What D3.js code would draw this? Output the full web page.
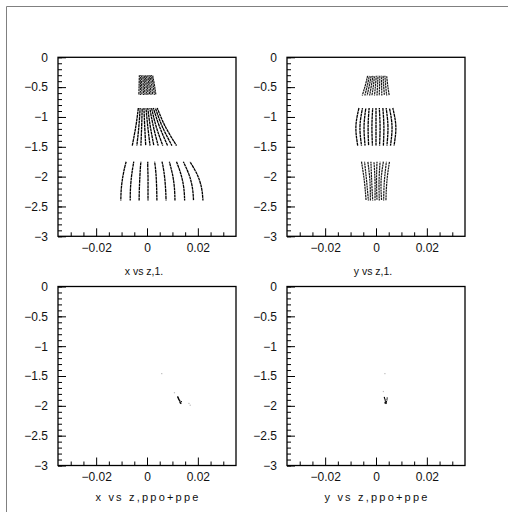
<!DOCTYPE html>
<html>
<head>
<meta charset="utf-8">
<script src="https://cdn.jsdelivr.net/npm/d3@7"></script>
<style>
  body { margin: 0; background: #fff; }
  svg text { font-family: "Liberation Sans", Arial, sans-serif; fill: #111; }
</style>
</head>
<body>
<div id="chart"></div>
<script>
// tick values
const xMajor = [-0.02, 0, 0.02];
const zMajor = [0, -0.5, -1, -1.5, -2, -2.5, -3];

// panel titles
const topTitles = ["x vs z,1.", "y vs z,1."];
const bottomTitles = ["x vs z,ppo+ppe", "y vs z,ppo+ppe"];

// ---- x vs z,1. : tracks, x values at the z levels listed ----
const xzTopZ = [-0.30, -0.46, -0.63];
const xzTopTracks = [
  [-0.0030, -0.0031, -0.0032], [-0.0025, -0.0026, -0.0026], [-0.0021, -0.0021, -0.0020],
  [-0.0016, -0.0015, -0.0014], [-0.0011, -0.0010, -0.0008], [-0.0007, -0.0004, -0.0002],
  [-0.0002, 0.0001, 0.0004], [0.0003, 0.0007, 0.0010], [0.0008, 0.0012, 0.0016],
  [0.0012, 0.0018, 0.0022], [0.0017, 0.0024, 0.0029], [0.0022, 0.0029, 0.0035]
];
const xzMidZ = [-0.85, -1.16, -1.48];
const xzMidTracks = [
  [-0.0034, -0.0044, -0.0058], [-0.0027, -0.0032, -0.0040], [-0.0019, -0.0021, -0.0024],
  [-0.0012, -0.0009, -0.0005], [-0.0004, 0.0003, 0.0012], [0.0003, 0.0013, 0.0027],
  [0.0011, 0.0025, 0.0044], [0.0018, 0.0036, 0.0062], [0.0025, 0.0049, 0.0081],
  [0.0033, 0.0060, 0.0098], [0.0040, 0.0072, 0.0116]
];
const xzLowZ = [-1.75, -1.85, -2.0, -2.2, -2.4];
const xzLowTracks = [
  [-0.0082, -0.0088, -0.0095, -0.0101, -0.0103],
  [-0.0052, -0.0056, -0.0061, -0.0065, -0.0066],
  [-0.0024, -0.0026, -0.0028, -0.0030, -0.0031],
  [0.0003, 0.0003, 0.0004, 0.0004, 0.0004],
  [0.0030, 0.0033, 0.0036, 0.0038, 0.0039],
  [0.0059, 0.0064, 0.0069, 0.0073, 0.0075],
  [0.0088, 0.0094, 0.0102, 0.0108, 0.0110],
  [0.0116, 0.0125, 0.0136, 0.0145, 0.0148],
  [0.0143, 0.0154, 0.0168, 0.0179, 0.0183],
  [0.0169, 0.0183, 0.0201, 0.0215, 0.0220]
];

// ---- y vs z,1. ----
const yzTopZ = [-0.31, -0.47, -0.64];
const yzTopTracks = [
  [-0.0033, -0.0042, -0.0054], [-0.0026, -0.0034, -0.0044], [-0.0019, -0.0026, -0.0035],
  [-0.0012, -0.0018, -0.0025], [-0.0006, -0.0010, -0.0016], [0.0001, -0.0002, -0.0006],
  [0.0008, 0.0006, 0.0004], [0.0015, 0.0014, 0.0013], [0.0022, 0.0022, 0.0023],
  [0.0028, 0.0030, 0.0033], [0.0035, 0.0038, 0.0042], [0.0042, 0.0046, 0.0052]
];
const yzMidZ = [-0.85, -1.16, -1.48];
const yzMidTracks = [
  [-0.0067, -0.0079, -0.0072], [-0.0053, -0.0063, -0.0057], [-0.0040, -0.0047, -0.0043],
  [-0.0027, -0.0031, -0.0029], [-0.0013, -0.0016, -0.0014], [0.0000, 0.0000, 0.0000],
  [0.0013, 0.0016, 0.0014], [0.0027, 0.0031, 0.0029], [0.0040, 0.0047, 0.0043],
  [0.0053, 0.0063, 0.0057], [0.0066, 0.0078, 0.0071]
];
const yzLowZ = [-1.75, -2.07, -2.4];
const yzLowTracks = [
  [-0.0057, -0.0046, -0.0039], [-0.0045, -0.0037, -0.0030], [-0.0032, -0.0024, -0.0022],
  [-0.0020, -0.0017, -0.0013], [-0.0008, -0.0004, -0.0004], [0.0004, 0.0002, 0.0004],
  [0.0016, 0.0012, 0.0013], [0.0029, 0.0020, 0.0022], [0.0041, 0.0033, 0.0030],
  [0.0053, 0.0043, 0.0039]
];

// ---- ppo+ppe hits ----
const xzHitX = [0.0121, 0.0122, 0.0123, 0.0124, 0.0125, 0.0126, 0.0128, 0.0129, 0.0130, 0.0131, 0.0133, 0.0135];
const xzHitZ = [-1.85, -1.86, -1.87, -1.88, -1.89, -1.90, -1.91, -1.92, -1.94, -1.95, -1.96, -1.93];
const xzFaintX = [0.0058, 0.0108, 0.0165, 0.0170];
const xzFaintZ = [-1.46, -1.78, -1.96, -1.99];
const yzHitX = [0.0033, 0.0034, 0.0036, 0.0037, 0.0038, 0.0040, 0.0041, 0.0043, 0.0044, 0.0039, 0.0035];
const yzHitZ = [-1.86, -1.88, -1.90, -1.92, -1.94, -1.95, -1.93, -1.90, -1.87, -1.96, -1.95];
const yzFaintX = [0.0035, 0.0029];
const yzFaintZ = [-1.46, -1.76];

const width = 508, height = 512;
const pw = 178, ph = 179;
const lefts = [58, 287], tops = [57.3, 286.5];

const svg = d3.select("#chart").append("svg")
  .attr("width", width).attr("height", height);

svg.append("rect").attr("width", width).attr("height", height).attr("fill", "#fff");
// outer page frame (only left and top edges inside the window)
svg.append("path").attr("d", "M6.5,512V6.5H508")
  .attr("fill", "none").attr("stroke", "#808080").attr("stroke-width", 1);

const x = d3.scaleLinear().domain([-0.035, 0.035]).range([0, pw]);
const y = d3.scaleLinear().domain([-3, 0]).range([ph, 0]);
const fmt = d3.format("~g");

const line = d3.line()
  .x(d => x(d[0])).y(d => y(d[1]))
  .curve(d3.curveNatural);

function drawTracks(g, zs, tracks, opts) {
  g.append("g").selectAll("path")
    .data(tracks.map(t => t.map((v, i) => [v, zs[i]])))
    .join("path")
    .attr("d", line)
    .attr("fill", "none")
    .attr("stroke", "#000")
    .attr("stroke-width", opts.w)
    .attr("stroke-dasharray", opts.dash)
    // stagger the dot pattern so gaps don't line up across tracks
    .attr("stroke-dashoffset", (d, i) => (i * 1.3) % 3)
    .attr("opacity", opts.op);
}

function drawHits(g, xs, zs, col) {
  g.append("g").selectAll("rect")
    .data(xs.map((v, i) => [v, zs[i]]))
    .join("rect")
    .attr("x", d => x(d[0]) - 0.6)
    .attr("y", d => y(d[1]) - 0.6)
    .attr("width", 1.2).attr("height", 1.2)
    .attr("fill", col);
}

function drawAxes(g) {
  const xMinor = d3.range(-0.03, 0.0301, 0.005).filter(v => Math.abs(Math.round(v * 1000) % 20) !== 0);
  const zMinor = d3.range(0, -3.01, -0.1);

  g.append("g").attr("transform", `translate(0,${ph})`)
    .call(d3.axisBottom(x).tickValues(xMinor).tickSize(-4).tickFormat(""))
    .call(a => a.select(".domain").remove());
  g.append("g").attr("transform", `translate(0,${ph})`)
    .call(d3.axisBottom(x).tickValues(xMajor).tickSize(-8).tickPadding(7).tickFormat(fmt))
    .call(a => a.select(".domain").remove())
    .call(a => a.selectAll("text").attr("font-size", 12).attr("fill", "#111"));

  g.append("g")
    .call(d3.axisLeft(y).tickValues(zMinor).tickSize(-4).tickFormat(""))
    .call(a => a.select(".domain").remove());
  g.append("g")
    .call(d3.axisLeft(y).tickValues(zMajor).tickSize(-8).tickPadding(10).tickFormat(fmt))
    .call(a => a.select(".domain").remove())
    .call(a => a.selectAll("text").attr("font-size", 12).attr("fill", "#111"));

  g.selectAll(".tick line").attr("stroke", "#000").attr("stroke-width", 1);

  g.append("rect").attr("width", pw).attr("height", ph)
    .attr("fill", "none").attr("stroke", "#000").attr("stroke-width", 1.3);
}

const panels = [
  { col: 0, row: 0 }, { col: 1, row: 0 }, { col: 0, row: 1 }, { col: 1, row: 1 }
];
const gs = panels.map(p => svg.append("g")
  .attr("transform", `translate(${lefts[p.col]},${tops[p.row]})`));

const dense = { w: 1.2, dash: "2.2,0.6", op: 0.9 };
const solid = { w: 1.3, dash: "3,0.5", op: 1 };

drawTracks(gs[0], xzTopZ, xzTopTracks, dense);
drawTracks(gs[0], xzMidZ, xzMidTracks, solid);
drawTracks(gs[0], xzLowZ, xzLowTracks, solid);

drawTracks(gs[1], yzTopZ, yzTopTracks, dense);
drawTracks(gs[1], yzMidZ, yzMidTracks, solid);
drawTracks(gs[1], yzLowZ, yzLowTracks, dense);

drawHits(gs[2], xzFaintX, xzFaintZ, "#bbb");
drawHits(gs[2], xzHitX, xzHitZ, "#000");
drawHits(gs[3], yzFaintX, yzFaintZ, "#bbb");
drawHits(gs[3], yzHitX, yzHitZ, "#000");

gs.forEach(drawAxes);

// titles under each panel
topTitles.forEach((t, i) => {
  svg.append("text").attr("x", lefts[i] + pw / 2 - 3).attr("y", 275)
    .attr("text-anchor", "middle").attr("font-size", 10.5).text(t);
});
bottomTitles.forEach((t, i) => {
  svg.append("text").attr("x", lefts[i] + pw / 2 + 1).attr("y", 501)
    .attr("text-anchor", "middle").attr("font-size", 11)
    .attr("letter-spacing", 2.2).text(t);
});
</script>
</body>
</html>
